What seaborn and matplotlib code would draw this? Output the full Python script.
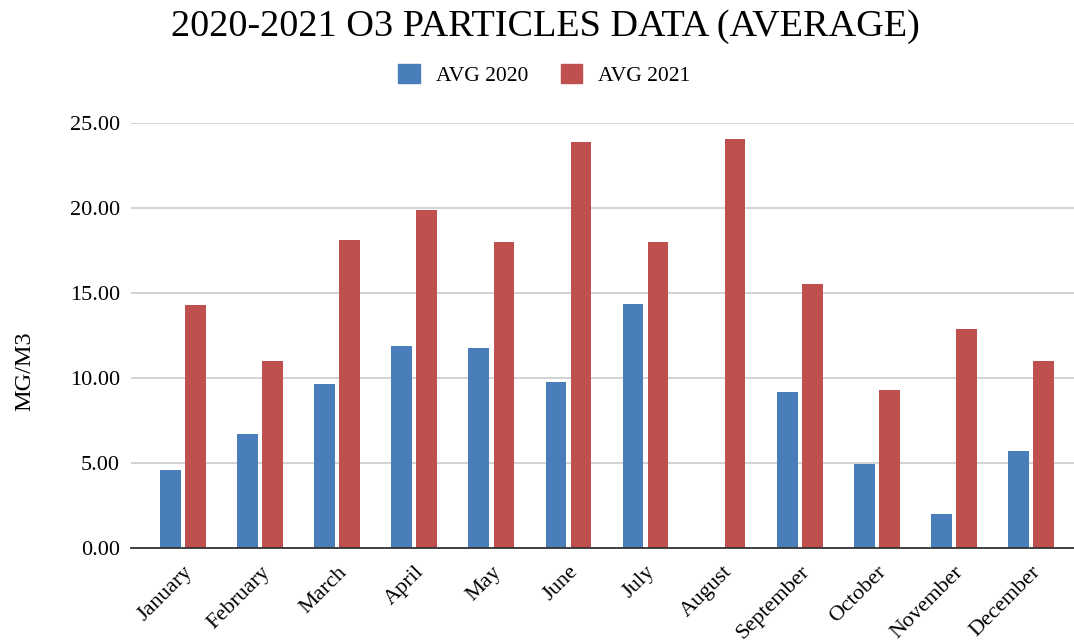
import matplotlib
matplotlib.use("Agg")
import matplotlib.pyplot as plt
import matplotlib.transforms as mtransforms
import seaborn as sns
import pandas as pd
from matplotlib.patches import Patch

months = ["January", "February", "March", "April", "May", "June", "July",
          "August", "September", "October", "November", "December"]
avg_2020 = [4.6, 6.7, 9.65, 11.9, 11.8, 9.75, 14.35, 0.0, 9.2, 4.95, 2.0, 5.7]
avg_2021 = [14.3, 11.0, 18.1, 19.9, 18.0, 23.9, 18.0, 24.05, 15.55, 9.3, 12.9, 11.0]
series_names = ["AVG 2020", "AVG 2021"]
colors = ["#4a7ebb", "#c0504d"]

df = pd.DataFrame({
    "month": months * 2,
    "value": avg_2020 + avg_2021,
    "series": [series_names[0]] * 12 + [series_names[1]] * 12,
})

sns.set_theme(style="white")
plt.rcParams["font.family"] = ["Liberation Serif", "DejaVu Serif"]
for k in ["text.color", "axes.labelcolor", "xtick.color", "ytick.color"]:
    plt.rcParams[k] = "black"

fig = plt.figure(figsize=(10.74, 6.43), dpi=100)
ax = fig.add_axes([0.122, 0.147, 0.878, 0.662])

sns.barplot(data=df, x="month", y="value", hue="series", order=months,
            hue_order=series_names, palette=colors, width=0.65, gap=0.17,
            saturation=1, linewidth=0, ax=ax, legend=False)

ax.set_ylim(0, 25)
ax.set_xlim(-0.676, 11.56)
ax.set_yticks([0, 5, 10, 15, 20, 25])
ax.set_yticklabels([f"{v:.2f}" for v in [0, 5, 10, 15, 20, 25]], fontsize=16)
ax.yaxis.grid(True, color="#cccccc", linewidth=1.2)
ax.set_axisbelow(True)
for s in ["top", "right", "left"]:
    ax.spines[s].set_visible(False)
ax.spines["bottom"].set_color("#333333")
ax.spines["bottom"].set_linewidth(1.3)
ax.tick_params(axis="y", length=0, pad=8)
ax.tick_params(axis="x", length=0, pad=15)
offset = mtransforms.ScaledTranslation(7 / 100, 0, fig.dpi_scale_trans)
for lbl in ax.get_xticklabels():
    lbl.set_rotation(45)
    lbl.set_ha("right")
    lbl.set_va("center")
    lbl.set_rotation_mode("anchor")
    lbl.set_fontsize(16)
    lbl.set_transform(lbl.get_transform() + offset)
ax.set_xlabel("")
ax.set_ylabel("")
fig.text(25 / 1074, 1 - 371 / 643, "MG/M3", rotation=90, ha="center",
         va="center", fontsize=17.5)

fig.text(0.508, 0.959, "2020-2021 O3 PARTICLES DATA (AVERAGE)", ha="center",
         va="center", fontsize=27.5)
handles = [Patch(facecolor=c, edgecolor=c) for c in colors]
fig.legend(handles, series_names, loc="center", bbox_to_anchor=(0.507, 0.884),
           ncol=2, frameon=False, fontsize=15.5, handlelength=1.0,
           handleheight=1.0, columnspacing=1.5, handletextpad=0.75)

fig.savefig("out.png", dpi=100)
